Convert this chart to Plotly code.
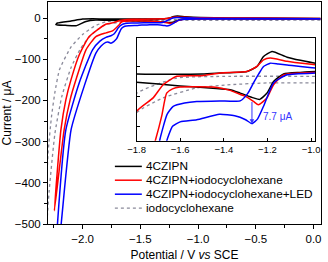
import numpy as np
import plotly.graph_objects as go

# ---------------- data (potential V vs SCE, current uA) ----------------
names = ["4CZIPN", "4CZIPN+iodocyclohexane", "4CZIPN+iodocyclohexane+LED", "iodocyclohexane"]

# 4CZIPN
blk_fwd_V = [0.06, -0.5, -0.98, -1.05, -1.126, -1.172, -1.202, -1.235, -1.264, -1.325, -1.371, -1.45, -1.6, -1.8, -1.885, -1.971, -2.058, -2.15, -2.232]
blk_fwd_I = [-2, -2, -1.7, -2, -2.5, -5, -8.9, -11, -10.5, -8.9, -7.8, -7.3, -6.5, -5.3, -5, -8.2, -18.7, -17.5, -16]
blk_rev_V = [-2.232, -2.218, -2.1, -2.0, -1.914, -1.8, -1.5, -1.417, -1.294, -1.248, -1.218, -1.179, -1.11, -0.98, -0.5, 0.06]
blk_rev_I = [-16, -12, -7, -2.4, -1.7, -2.5, -2.5, -2.2, -1.7, 0, 3.3, 5, 3.1, 1.1, 0, -1]

# 4CZIPN + iodocyclohexane
red_fwd_V = [0.06, -0.5, -0.98, -1.126, -1.172, -1.202, -1.241, -1.264, -1.30, -1.34, -1.371, -1.448, -1.55, -1.601, -1.635, -1.662, -1.685, -1.711, -1.741, -1.798, -1.885, -1.971, -2.058, -2.108, -2.16, -2.245]
red_fwd_I = [-2, -2, -2, -2.8, -6.1, -10.5, -12.8, -11.7, -10, -8.9, -8, -6.9, -6.8, -6.9, -7.5, -8.9, -16.7, -24, -31, -36, -45, -77, -150, -198, -271, -468]
red_rev_V = [-2.245, -2.188, -2.145, -2.101, -2.029, -1.943, -1.8, -1.724, -1.678, -1.616, -1.5, -1.417, -1.294, -1.248, -1.218, -1.187, -1.11, -0.98, -0.5, 0.06]
red_rev_I = [-468, -271, -198, -150, -89, -44.7, -15, -10.5, -6.1, -3.3, -3.1, -2.2, -1.7, 0, 2.2, 2.8, 1.7, 0.6, 0, -1]

# 4CZIPN + iodocyclohexane + LED
blu_fwd_V = [0.06, -0.5, -0.98, -1.11, -1.172, -1.218, -1.245, -1.271, -1.30, -1.35, -1.42, -1.524, -1.6, -1.635, -1.662, -1.683, -1.705, -1.73, -1.755, -1.78, -1.80, -1.84, -1.885, -1.985, -2.10, -2.186, -2.25]
blu_fwd_I = [-2, -2, -2.2, -2.8, -5.5, -13.3, -17.5, -19.1, -17.8, -16.5, -16, -17.8, -18.5, -20, -25, -36, -50, -57, -61, -58, -59, -68, -85, -164, -271, -500, -670]
blu_rev_V = [-2.25, -2.218, -2.145, -2.029, -1.914, -1.85, -1.798, -1.755, -1.726, -1.705, -1.693, -1.66, -1.632, -1.58, -1.524, -1.42, -1.325, -1.29, -1.264, -1.24, -1.218, -1.187, -1.15, -1.11, -0.98, -0.5, 0.06]
blu_rev_I = [-670, -500, -271, -157, -77, -56, -47, -43, -38, -30, -24.4, -16, -13.3, -12.2, -11.7, -11.5, -11.5, -9, -5.5, -2.5, 0, 1.1, 0.8, 0.5, -0.5, -1, -1.5]

# iodocyclohexane
iod_fwd_V = [0.06, -0.5, -0.98, -1.2, -1.37, -1.524, -1.678, -1.8, -1.87, -1.94, -2.02, -2.1, -2.18, -2.24, -2.29, -2.34]
iod_fwd_I = [-5, -5.5, -5.5, -5.5, -6.1, -7.2, -10.5, -15.5, -28, -45, -75, -120, -190, -280, -420, -620]
iod_rev_V = [-2.34, -2.30, -2.27, -2.24, -2.2, -2.1, -2.0, -1.9, -1.8, -1.616, -1.37, -0.98, -0.5, 0.06]
iod_rev_I = [-620, -330, -240, -180, -125, -70, -40, -20, -9, -3.9, -3.3, -3.3, -3.5, -4]

main_x_ticks = [-2.0, -1.5, -1.0, -0.5, 0.0]
main_y_ticks = [-500, -400, -300, -200, -100, 0]
inset_x_ticks = [-1.8, -1.6, -1.4, -1.2, -1.0]
inset_y_ticks = [-20, -10, 0]
peak_label = "7.7 μA"

# ---------------- styling ----------------
colors = ["#000000", "#ff0000", "#0000ff", "#8a8a9a"]
dashes = ["solid", "solid", "solid", "dot"]
FONT = "Arial, Liberation Sans, sans-serif"

curves = [
    (blk_fwd_V + blk_rev_V[1:], blk_fwd_I + blk_rev_I[1:]),
    (red_fwd_V + red_rev_V[1:], red_fwd_I + red_rev_I[1:]),
    (blu_fwd_V + blu_rev_V[1:], blu_fwd_I + blu_rev_I[1:]),
    (iod_fwd_V + iod_rev_V[1:], iod_fwd_I + iod_rev_I[1:]),
]

fig = go.Figure()
order = [3, 0, 1, 2]
for xa, ya in (("x", "y"), ("x2", "y2")):
    for k in order:
        V, I = curves[k]
        w = 1.3 if k == 3 else 1.5
        fig.add_trace(go.Scatter(x=V, y=I, mode="lines", name=names[k], showlegend=False,
                                 line=dict(color=colors[k], width=w, dash=dashes[k], shape="spline", smoothing=0.5),
                                 xaxis=xa, yaxis=ya, hoverinfo="skip"))

# plot area geometry in pixels
W, H = 328, 262
L, R, T, B = 48, 6.5, 2.3, 37.7
pw, ph = W - L - R, H - T - B

def px2paper(x, y):
    return (x - L) / pw, (H - B - y) / ph

ix0, iy0 = px2paper(136.7, 141)
ix1, iy1 = px2paper(315.5, 38.3)

axis_common = dict(showgrid=False, zeroline=False, showline=True, linecolor="black",
                   linewidth=1, mirror=True, tickcolor="black", automargin=False)

fig.update_layout(
    width=W, height=H,
    margin=dict(l=L, r=R, t=T, b=B, pad=0),
    paper_bgcolor="white", plot_bgcolor="white",
    font=dict(family=FONT, size=11.5, color="black"),
    xaxis=dict(**axis_common, range=[-2.3, 0.065], tickvals=main_x_ticks, tickformat=".1f",
               ticks="outside", ticklen=4, tickwidth=1,
               minor=dict(dtick=0.25, tick0=0, ticks="outside", ticklen=3, tickcolor="black"),
               title=dict(text="Potential / V <i>vs</i> SCE", font=dict(size=12), standoff=10)),
    yaxis=dict(**axis_common, range=[-500, 39], tickvals=main_y_ticks,
               ticks="outside", ticklen=4, tickwidth=1,
               minor=dict(dtick=50, tick0=0, ticks="outside", ticklen=3, tickcolor="black"),
               title=dict(text="Current / μA", font=dict(size=12), standoff=4)),
    xaxis2=dict(**axis_common, domain=[ix0, ix1], anchor="y2", range=[-1.80, -0.982],
                tickvals=inset_x_ticks, tickformat=".1f", ticks="inside", ticklen=3,
                tickfont=dict(size=9.5)),
    yaxis2=dict(**axis_common, domain=[iy0, iy1], anchor="x2", range=[-24.8, 9.5],
                tickvals=inset_y_ticks, ticks="inside", ticklen=3, showticklabels=False),
)

# 7.7 uA arrow: from red forward curve down to the blue forward peak
bV = np.array(blu_fwd_V); bI = np.array(blu_fwd_I)
mask = (bV > -1.4) & (bV < -1.1)
pk = np.argmin(np.where(mask, bI, np.inf))
pkV, pkI = bV[pk], bI[pk]
rV = np.array(red_fwd_V)[::-1]; rI = np.array(red_fwd_I)[::-1]
topI = float(np.interp(pkV, rV, rI))
fig.add_annotation(x=pkV, y=pkI, ax=pkV, ay=topI, xref="x2", yref="y2", axref="x2", ayref="y2",
                   text="", showarrow=True, arrowhead=2, arrowsize=0.9, arrowwidth=1, arrowcolor="#3333ff")
fig.add_annotation(x=pkV + 0.115, y=(pkI + topI) / 2 - 1.5, xref="x2", yref="y2", text=peak_label,
                   showarrow=False, font=dict(size=10, color="#3333ff"))

# manual legend (compact row spacing)
rows_y = [166.7, 180.5, 194.5, 208.5]
for k in range(4):
    x0, y = px2paper(115, rows_y[k])
    x1, _ = px2paper(142, rows_y[k])
    xt, _ = px2paper(144, rows_y[k])
    fig.add_shape(type="line", xref="paper", yref="paper", x0=x0, x1=x1, y0=y, y1=y,
                  line=dict(color=colors[k], width=1.5 if k < 3 else 1.2, dash=dashes[k]))
    fig.add_annotation(xref="paper", yref="paper", x=xt, y=y, text=names[k], showarrow=False,
                       xanchor="left", yanchor="middle", font=dict(size=11.8))

fig.write_html("out.html", config={"displayModeBar": False, "staticPlot": True},
               post_script="document.body.style.margin='0';document.body.style.overflow='hidden';")
